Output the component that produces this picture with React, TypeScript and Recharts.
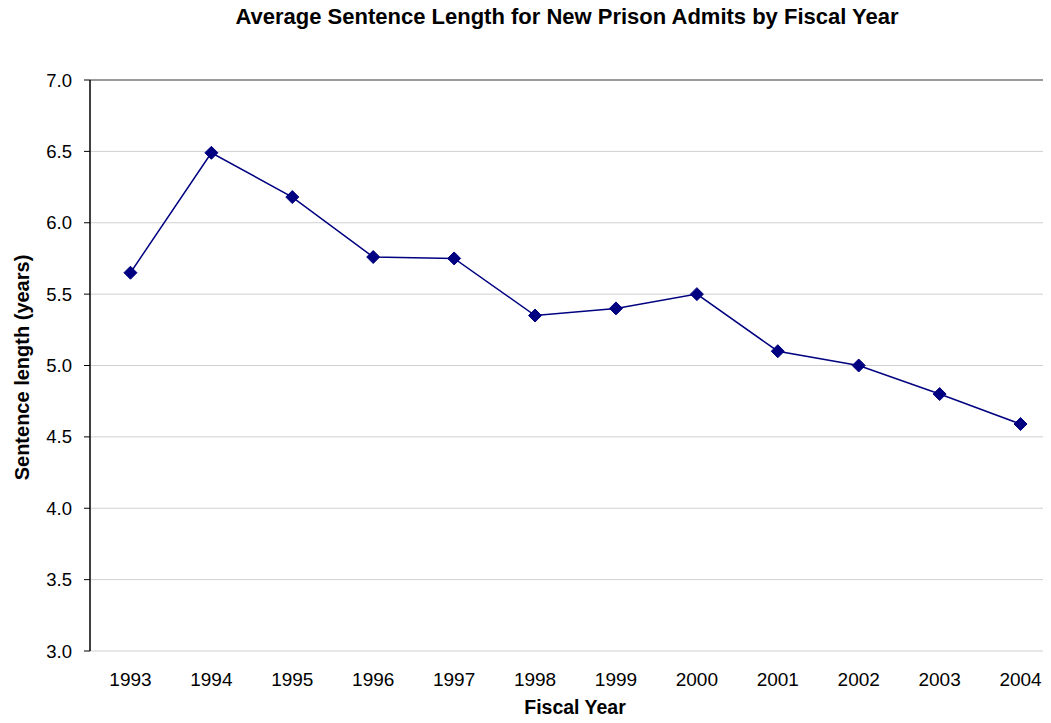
import {
  LineChart,
  Line,
  XAxis,
  YAxis,
  CartesianGrid,
  ReferenceLine,
  Label,
} from 'recharts';

const years = [1993, 1994, 1995, 1996, 1997, 1998, 1999, 2000, 2001, 2002, 2003, 2004];
const sentenceYears = [5.65, 6.49, 6.18, 5.76, 5.75, 5.35, 5.4, 5.5, 5.1, 5.0, 4.8, 4.59];
const yTicks = [3.0, 3.5, 4.0, 4.5, 5.0, 5.5, 6.0, 6.5, 7.0];
const boundaryTicks = [1992.5, 1993.5, 1994.5, 1995.5, 1996.5, 1997.5, 1998.5, 1999.5, 2000.5, 2001.5, 2002.5, 2003.5, 2004.5];

const data = years.map((year, i) => ({ year, value: sentenceYears[i] }));

const FONT = '"Liberation Sans", Arial, sans-serif';
const NAVY = '#000080';

// Excel-style diamond marker
function Diamond(props: any) {
  const { cx, cy } = props;
  if (cx == null || cy == null) return null;
  const r = 6.5;
  return (
    <polygon
      points={`${cx},${cy - r} ${cx + r},${cy} ${cx},${cy + r} ${cx - r},${cy}`}
      fill={NAVY}
      stroke={NAVY}
    />
  );
}

export default function App() {
  return (
    <div style={{ position: 'relative', margin: -8, width: 1051, height: 723, overflow: 'hidden', background: '#fff' }}>
      <div
        style={{
          position: 'absolute',
          top: 4,
          left: 0,
          width: 1134,
          textAlign: 'center',
          fontFamily: FONT,
          fontWeight: 'bold',
          fontSize: 22,
          color: '#000',
          whiteSpace: 'nowrap',
        }}
      >
        Average Sentence Length for New Prison Admits by Fiscal Year
      </div>
      <LineChart
        width={1075}
        height={723}
        data={data}
        margin={{ top: 80, right: 14, left: 12, bottom: 32 }}
      >
        <CartesianGrid vertical={false} stroke="#d0d0d0" />
        <ReferenceLine y={7} stroke="#808080" strokeWidth={1.5} />
        {/* tick marks sit between the years, like Excel */}
        <XAxis
          xAxisId="bounds"
          dataKey="year"
          type="number"
          domain={[1992.5, 2004.5]}
          ticks={boundaryTicks}
          tickFormatter={() => ''}
          height={0}
          axisLine={{ stroke: '#000', strokeWidth: 1.5 }}
          tickLine={{ stroke: '#000' }}
          tickSize={6}
        />
        <XAxis
          xAxisId="main"
          dataKey="year"
          type="number"
          domain={[1992.5, 2004.5]}
          ticks={years}
          height={40}
          axisLine={false}
          tickLine={false}
          tickSize={0}
          tickMargin={22}
          tick={{ fill: '#000', fontSize: 19, fontFamily: FONT }}
        >
          <Label
            content={() => (
              <text
                x={575}
                y={714}
                textAnchor="middle"
                fontFamily={FONT}
                fontWeight="bold"
                fontSize={19.5}
                fill="#000"
              >
                Fiscal Year
              </text>
            )}
          />
        </XAxis>
        <YAxis
          domain={[3, 7]}
          ticks={yTicks}
          width={78}
          allowDataOverflow
          axisLine={{ stroke: '#000', strokeWidth: 1.5 }}
          tickLine={{ stroke: '#000' }}
          tickSize={6}
          tickMargin={12}
          tickFormatter={(v: number) => v.toFixed(1)}
          tick={{ fill: '#000', fontSize: 18.5, fontFamily: FONT }}
        >
          <Label
            content={({ viewBox }: any) => {
              const cx = 29;
              const cy = viewBox.y + viewBox.height / 2 + 2;
              return (
                <text
                  x={cx}
                  y={cy}
                  transform={`rotate(-90, ${cx}, ${cy})`}
                  textAnchor="middle"
                  fontFamily={FONT}
                  fontWeight="bold"
                  fontSize={20}
                  fill="#000"
                >
                  Sentence length (years)
                </text>
              );
            }}
          />
        </YAxis>
        <Line
          xAxisId="main"
          dataKey="value"
          stroke={NAVY}
          strokeWidth={1.5}
          dot={<Diamond />}
          activeDot={false}
          isAnimationActive={false}
        />
      </LineChart>
    </div>
  );
}
